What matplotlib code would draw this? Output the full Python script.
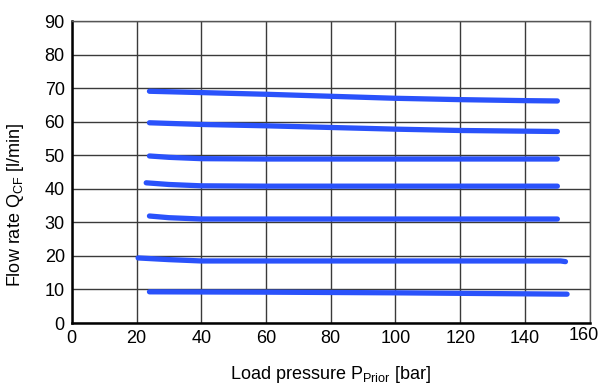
import matplotlib
matplotlib.use('Agg')
import matplotlib.pyplot as plt
import matplotlib.transforms as mtransforms

plt.rcParams['font.family'] = ['Liberation Sans', 'DejaVu Sans']
plt.rcParams['mathtext.fontset'] = 'custom'
plt.rcParams['mathtext.rm'] = 'Liberation Sans'

# ---------------------------------------------------------------------------
# flow curves, one per setting: (pressure [bar], flow [l/min])
CURVES = [
    ([24, 40, 60, 80, 100, 120, 140, 150], [69.1, 68.7, 68.2, 67.6, 67.0, 66.6, 66.3, 66.2]),
    ([24, 40, 60, 80, 100, 120, 140, 150], [59.7, 59.2, 58.8, 58.3, 57.8, 57.4, 57.2, 57.1]),
    ([24, 30, 40, 60, 100, 150], [49.8, 49.4, 49.0, 48.9, 48.9, 48.9]),
    ([23, 30, 40, 60, 100, 150], [41.8, 41.3, 40.9, 40.8, 40.8, 40.8]),
    ([24, 30, 40, 60, 100, 150], [31.9, 31.4, 31.0, 31.0, 31.0, 31.0]),
    ([20.5, 30, 40, 60, 100, 151, 152.5], [19.4, 18.9, 18.5, 18.5, 18.5, 18.5, 18.3]),
    ([24, 60, 100, 140, 153], [9.3, 9.2, 9.0, 8.7, 8.6]),
]
XTICKS = [0, 20, 40, 60, 80, 100, 120, 140, 160]
YTICKS = [0, 10, 20, 30, 40, 50, 60, 70, 80, 90]
# ---------------------------------------------------------------------------

fig = plt.figure(figsize=(6.03, 3.88), dpi=100)
ax = fig.add_axes([0.119, 0.1675, 0.859, 0.778])

for x, y in CURVES:
    ax.plot(x, y, color='#2a52fb', lw=3.8, solid_capstyle='round', zorder=3)

ax.set_xlim(0, 160)
ax.set_ylim(0, 90)
ax.set_xticks(XTICKS)
ax.set_yticks(YTICKS)
ax.grid(True, color='#3a3a3a', lw=1.0)
ax.set_axisbelow(True)
ax.tick_params(length=0, labelsize=13, pad=5)
for s in ['left', 'bottom']:
    ax.spines[s].set_linewidth(1.8)
    ax.spines[s].set_color('black')
for s in ['right', 'top']:
    ax.spines[s].set_linewidth(1.0)
    ax.spines[s].set_color('#555555')

# last x tick label sits against the figure edge, nudge it in
last = ax.get_xticklabels()[-1]
last.set_transform(last.get_transform() +
                   mtransforms.ScaledTranslation(-4 / 72, 2 / 72, fig.dpi_scale_trans))

ax.set_xlabel(r'Load pressure P$_{\mathrm{Prior}}$ [bar]', fontsize=13, labelpad=12)
ax.set_ylabel(r'Flow rate Q$_{\mathrm{CF}}$ [l/min]', fontsize=13)
ax.yaxis.set_label_coords(-0.088, 0.39)

fig.savefig('out.png', dpi=100)
